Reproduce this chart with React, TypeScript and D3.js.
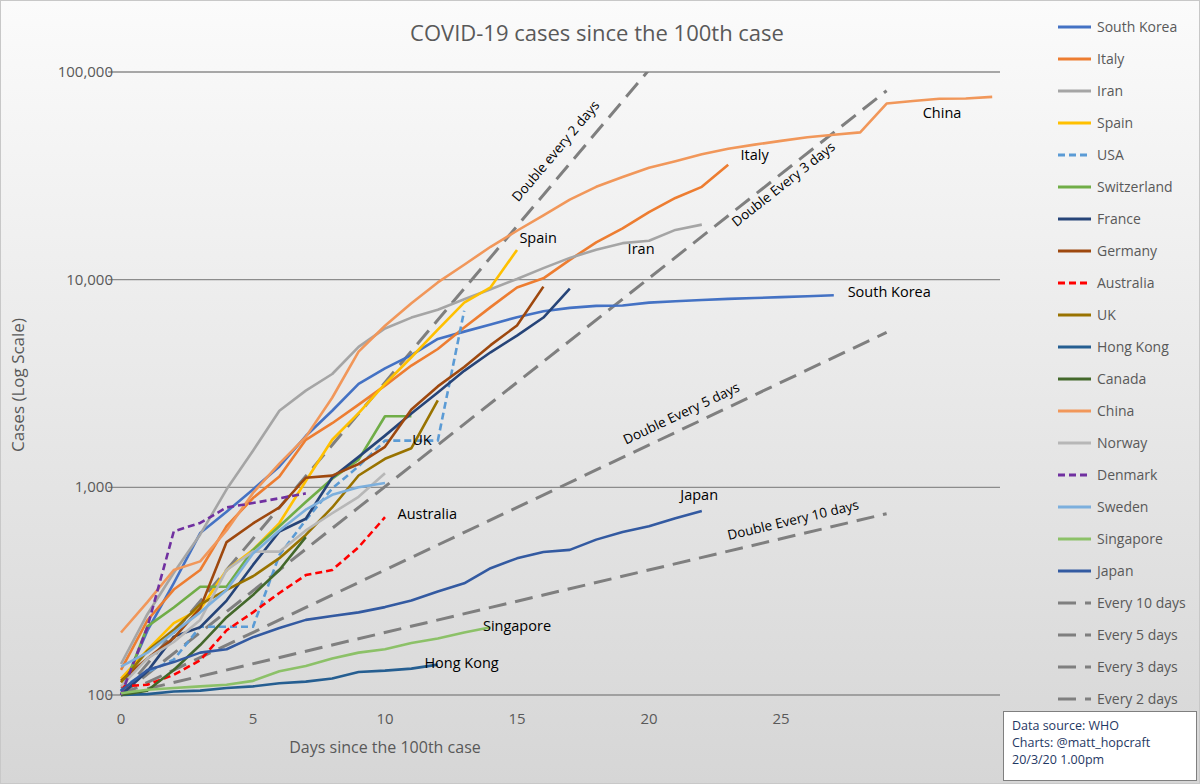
import * as d3 from "d3"
import { useEffect } from "react"

const countries = [
  "South Korea", "Italy", "Iran", "Spain", "USA", "Switzerland", "France", "Germany", "Australia",
  "UK", "Hong Kong", "Canada", "China", "Norway", "Denmark", "Sweden", "Singapore", "Japan",
]

const southKorea = [104, 204, 346, 602, 763, 977, 1261, 1766, 2337, 3150, 3736, 4335, 5186, 5621, 6088, 6593, 7041, 7313, 7478, 7513, 7755, 7869, 7979, 8086, 8162, 8236, 8320, 8413]
const italy = [132, 229, 322, 400, 650, 888, 1128, 1694, 2036, 2502, 3089, 3858, 4636, 5883, 7375, 9172, 10149, 12462, 15113, 17660, 21157, 24747, 27980, 35713]
const iran = [141, 245, 388, 593, 978, 1501, 2336, 2922, 3513, 4747, 5823, 6566, 7161, 8042, 9000, 10075, 11364, 12729, 13938, 14991, 15400, 17361, 18407]
const spain = [120, 165, 222, 259, 400, 500, 673, 1073, 1695, 2277, 3146, 4231, 5753, 7753, 9191, 13910]
const usa = [108, 129, 148, 213, 213, 213, 472, 696, 987, 1264, 1678, 1678, 1678, 7087]
const switzerland = [100, 214, 264, 332, 332, 500, 650, 850, 1100, 1360, 2200, 2200]
const france = [100, 130, 191, 212, 285, 423, 613, 706, 1116, 1402, 1774, 2269, 2860, 3640, 4469, 5380, 6573, 9043]
const germany = [117, 150, 188, 262, 545, 670, 800, 1112, 1139, 1296, 1567, 2369, 3062, 3795, 4838, 6012, 9257]
const australia = [110, 112, 125, 147, 205, 250, 310, 378, 400, 515, 718]
const uk = [115, 163, 206, 273, 321, 373, 456, 590, 800, 1140, 1372, 1543, 2626]
const hongKong = [100, 101, 104, 105, 108, 110, 114, 116, 120, 129, 131, 134, 140]
const canada = [100, 105, 132, 174, 237, 303, 400, 576]
const china = [200, 280, 400, 440, 620, 940, 1300, 1750, 2700, 4500, 6000, 7700, 9700, 11800, 14400, 17200, 20400, 24300, 28000, 31200, 34600, 37200, 40200, 42700, 44700, 46600, 48500, 49900, 51200, 70500, 72500, 74300, 74500, 75900]
const norway = [110, 150, 180, 230, 400, 490, 490, 620, 750, 900, 1170]
const denmark = [100, 212, 614, 674, 800, 840, 886, 935]
const sweden = [137, 160, 200, 250, 320, 480, 620, 780, 920, 1000, 1050]
const singapore = [102, 106, 108, 110, 112, 117, 130, 138, 150, 160, 166, 178, 187, 200, 212]
const japan = [105, 132, 144, 160, 166, 190, 210, 230, 240, 250, 265, 285, 315, 345, 408, 455, 488, 500, 560, 610, 650, 710, 770]

const seriesValues = [southKorea, italy, iran, spain, usa, switzerland, france, germany, australia, uk, hongKong, canada, china, norway, denmark, sweden, singapore, japan]
const colors = ["#4472c4", "#ed7d31", "#a5a5a5", "#ffc000", "#5b9bd5", "#70ad47", "#264478", "#9e480e", "#ff0000", "#997300", "#255e91", "#43682b", "#f1975a", "#b7b7b7", "#7030a0", "#7cafdd", "#8cc168", "#335aa1"]
const dashedSeries = ["USA", "Australia", "Denmark"]

const doublingDays = [10, 5, 3, 2]
const doublingLegend = ["Every 10 days", "Every 5 days", "Every 3 days", "Every 2 days"]
const doublingLabels = ["Double Every 10 days", "Double Every 5 days", "Double Every 3 days", "Double every 2 days"]
const doublingLabelDay = [25.5, 21.3, 25.2, 16.6]
const doublingLabelOffset = [-11, -11, 18, -22]
const lastDay = 29

const countryLabels = [
  { name: "China", day: 31.1, value: 63400 },
  { name: "Italy", day: 24, value: 39800 },
  { name: "Spain", day: 15.8, value: 15800 },
  { name: "Iran", day: 19.7, value: 14000 },
  { name: "South Korea", day: 29.1, value: 8700 },
  { name: "UK", day: 11.4, value: 1690 },
  { name: "Australia", day: 11.6, value: 740 },
  { name: "Japan", day: 21.9, value: 920 },
  { name: "Singapore", day: 15, value: 215 },
  { name: "Hong Kong", day: 12.9, value: 142 },
]

const yTicks = [100, 1000, 10000, 100000]
const xTicks = [0, 5, 10, 15, 20, 25]

const font = "'Open Sans', sans-serif"

export default function App() {
  useEffect(() => {
    document.body.style.margin = "0"
  }, [])

  const x = d3.scaleLinear().domain([0, 33]).range([121, 121 + 33 * 26.4])
  const y = d3.scaleLog().domain([100, 100000]).range([695, 72])
  const line = d3.line<number>().x((_, i) => x(i)).y((v) => y(v))

  const slopeAngle = (d: number) => {
    const dx = x(1) - x(0)
    const dy = y(100 * Math.pow(2, 1 / d)) - y(100)
    return (Math.atan2(dy, dx) * 180) / Math.PI
  }

  return (
    <svg width={1200} height={784} style={{ display: "block", fontFamily: font }}>
      <defs>
        <linearGradient id="bg" x1="0" y1="0" x2="0" y2="1">
          <stop offset="0" stopColor="#fbfbfb" />
          <stop offset="1" stopColor="#d6d6d6" />
        </linearGradient>
        <clipPath id="plot">
          <rect x={100} y={y(100000)} width={900} height={y(100) - y(100000) + 5} />
        </clipPath>
      </defs>
      <rect x={0.5} y={0.5} width={1199} height={783} fill="url(#bg)" stroke="#c8c8c8" />
      <text x={597} y={41} textAnchor="middle" fontSize={22} fill="#595959">
        COVID-19 cases since the 100th case
      </text>

      {yTicks.map((t) => (
        <g key={t}>
          <line x1={108} x2={1000} y1={y(t)} y2={y(t)} stroke="#8c8c8c" strokeWidth={1.3} />
          <text x={113} y={y(t) + 5} textAnchor="end" fontSize={15} fill="#595959">
            {d3.format(",")(t)}
          </text>
        </g>
      ))}
      {xTicks.map((t) => (
        <text key={t} x={x(t)} y={724} textAnchor="middle" fontSize={15} fill="#595959">
          {t}
        </text>
      ))}
      <text x={385} y={753} textAnchor="middle" fontSize={16} fill="#595959">
        Days since the 100th case
      </text>
      <text transform="translate(24,385) rotate(-90)" textAnchor="middle" fontSize={17} fill="#595959">
        Cases (Log Scale)
      </text>

      <g clipPath="url(#plot)">
        {doublingDays.map((d) => (
          <line
            key={d}
            x1={x(0)}
            y1={y(100)}
            x2={x(lastDay)}
            y2={y(100 * Math.pow(2, lastDay / d))}
            stroke="#7f7f7f"
            strokeWidth={3}
            strokeDasharray="18,9"
          />
        ))}
        {seriesValues.map((vals, i) => (
          <path
            key={countries[i]}
            d={line(vals) ?? ""}
            fill="none"
            stroke={colors[i]}
            strokeWidth={2.6}
            strokeDasharray={dashedSeries.includes(countries[i]) ? "7,4" : undefined}
            strokeLinejoin="round"
          />
        ))}
      </g>

      {doublingDays.map((d, i) => {
        const day = doublingLabelDay[i]
        const px = x(day)
        const py = y(100 * Math.pow(2, day / d)) + doublingLabelOffset[i]
        return (
          <text
            key={d}
            transform={`translate(${px},${py}) rotate(${slopeAngle(d)})`}
            textAnchor="middle"
            fontSize={13.5}
            fill="#000"
          >
            {doublingLabels[i]}
          </text>
        )
      })}

      {countryLabels.map((l) => (
        <text key={l.name} x={x(l.day)} y={y(l.value) + 5} textAnchor="middle" fontSize={14.5} fill="#000">
          {l.name}
        </text>
      ))}

      {[...countries, ...doublingLegend].map((name, i) => {
        const ly = 27 + i * 32
        const isCountry = i < countries.length
        return (
          <g key={name}>
            <line
              x1={1058}
              x2={1091}
              y1={ly}
              y2={ly}
              stroke={isCountry ? colors[i] : "#7f7f7f"}
              strokeWidth={3}
              strokeDasharray={
                isCountry ? (dashedSeries.includes(name) ? "7,4" : undefined) : "18,9"
              }
            />
            <text x={1097} y={ly + 5} fontSize={14} fill="#595959">
              {name}
            </text>
          </g>
        )
      })}

      <rect x={1003.5} y={711.5} width={193} height={69} fill="#fff" stroke="#7f7f7f" />
      {["Data source: WHO", "Charts: @matt_hopcraft", "20/3/20 1.00pm"].map((t, i) => (
        <text key={t} x={1012} y={730 + i * 17} fontSize={12.5} fill="#1f3864">
          {t}
        </text>
      ))}
    </svg>
  )
}
